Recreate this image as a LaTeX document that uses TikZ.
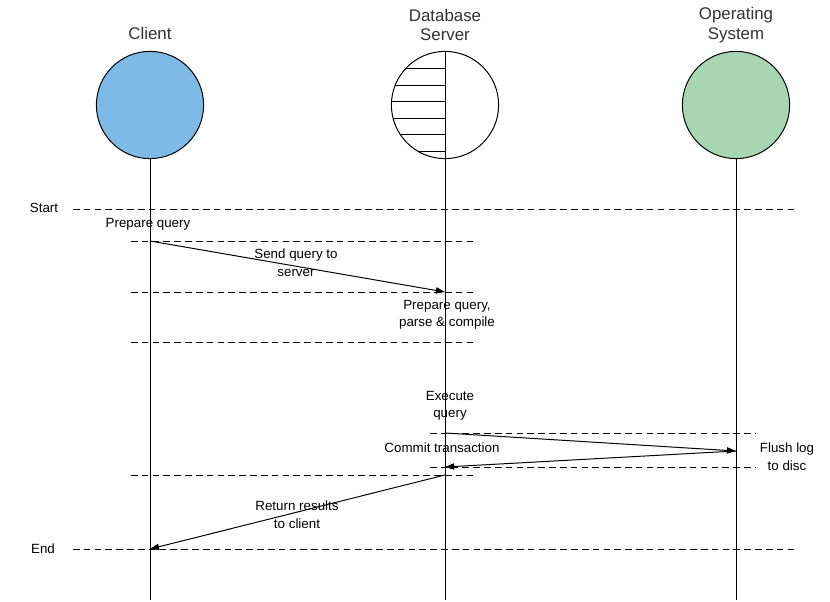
\documentclass[tikz,border=0pt]{standalone}
\usepackage{fontspec}
\setmainfont{Liberation Sans}
\usetikzlibrary{arrows.meta}

\begin{document}
\begin{tikzpicture}[x=0.025cm, y=-0.025cm, line width=0.7pt,
    every node/.style={font=\fontsize{9.5}{12.5}\selectfont},
    actor/.style={circle, draw, line width=0.7pt, minimum size=2.68cm, inner sep=0pt},
    title/.style={font=\fontsize{12}{14}\selectfont, align=center, text=black!80},
    phase/.style={dash pattern=on 4.7pt off 3pt},
    msg/.style={-{Triangle[length=6.5pt,width=4.5pt]}},
    note/.style={align=center, inner sep=1pt}]
\useasboundingbox (0,0) rectangle (830,602);

% ---------------- Participants ----------------
\node[actor, fill={rgb,255:red,125;green,187;blue,230}] (client) at (150, 105) {};
\node[actor, fill=white] (db) at (445, 105) {};
\node[actor, fill={rgb,255:red,168;green,214;blue,178}] (os) at (736, 105) {};

\node[title] (tclient) at (150, 33) {Client};
\node[title] (tdb) at (445, 25) {Database\\Server};
\node[title] (tos) at (736, 25) {Operating\\System};

% hatched half of the database circle
\begin{scope}
    \clip (db.center) circle[radius=1.34cm];
    \foreach \y in {68, 85, 101, 118, 134, 151}
        \draw (380, \y) -- (db.center |- 0, \y);
\end{scope}
\draw (db.north) -- (db.south);

% ---------------- Lifelines ----------------
\coordinate (clientend) at (150, 600);
\coordinate (dbend) at (445, 600);
\coordinate (osend) at (736, 600);
\draw (client.south) -- (clientend);
\draw (db.south) -- (dbend);
\draw (os.south) -- (osend);

% ---------------- Phase lines ----------------
\node (start) at (44, 208) {Start};
\node (end) at (43, 549) {End};
\draw[phase] (73, 209) -- (798, 209);
\draw[phase] (73, 549) -- (798, 549);
\foreach \y in {241, 292, 342, 475}
    \draw[phase] (131, \y) -- (473, \y);
\foreach \y in {433, 467}
    \draw[phase] (430, \y) -- (756, \y);

% ---------------- Messages ----------------
\coordinate (c1) at (150, 241); \coordinate (d1) at (445, 292);
\coordinate (d2) at (445, 433); \coordinate (o1) at (736, 451);
\coordinate (d3) at (445, 467); \coordinate (d4) at (445, 475);
\coordinate (c2) at (150, 549);

\draw[msg] (c1) -- (d1);
\draw[msg] (d2) -- (o1);
\draw[msg] (o1) -- (d3);
\draw[msg] (d4) -- (c2);

% ---------------- Labels ----------------
\node[note] (lprep) at (148, 224) {Prepare query};
\node[note] (lsend) at (296, 263) {Send query to\\server};
\node[note] (lparse) at (447, 315) {Prepare query,\\parse \& compile};
\node[note] (lexec) at (450, 406) {Execute\\query};
\node[note] (lcommit) at (442, 448) {Commit transaction};
\node[note] (lflush) at (787, 457) {Flush log\\to disc};
\node[note] (lret) at (297, 515) {Return results\\to client};

\end{tikzpicture}
\end{document}
